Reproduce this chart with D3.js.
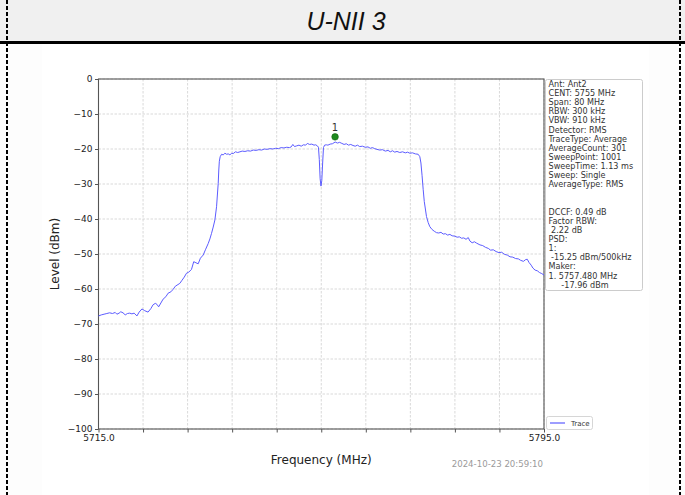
<!DOCTYPE html>
<html>
<head>
<meta charset="utf-8">
<script src="https://cdn.jsdelivr.net/npm/d3@7"></script>
<style>
  html, body { margin: 0; padding: 0; background: #ffffff; }
  svg { display: block; }
</style>
</head>
<body>
<svg id="chart" width="685" height="495"></svg>
<script>
// Spectrum trace: frequency (MHz) and measured level (dBm)
const freqMHz = [
  5715.0, 5715.5, 5716.0, 5716.5, 5717.0, 5717.5, 5718.0, 5718.3, 5718.7, 5719.0,
  5719.4, 5719.8, 5720.2, 5720.6, 5721.0, 5721.4, 5721.9, 5722.3, 5722.8, 5723.3,
  5723.9, 5724.4, 5724.8, 5725.2, 5725.5, 5725.8, 5726.2, 5726.6, 5727.1, 5727.5,
  5728.0, 5728.4, 5728.8, 5729.1, 5729.6, 5730.0, 5730.4, 5730.8, 5731.2, 5731.7,
  5732.1, 5732.5, 5732.9, 5733.3, 5733.8, 5734.2, 5734.7, 5735.0, 5735.3, 5735.6,
  5735.9, 5736.2, 5736.4, 5736.5, 5736.6, 5736.7, 5736.85, 5737.1, 5737.4, 5737.7,
  5738.0, 5738.3, 5738.6, 5738.9, 5739.2, 5739.6, 5740.0, 5740.4, 5740.8, 5741.3,
  5741.8, 5742.3, 5742.8, 5743.3, 5743.8, 5744.3, 5744.8, 5745.3, 5745.8, 5746.3,
  5746.8, 5747.3, 5747.8, 5748.3, 5748.8, 5749.3, 5749.6, 5749.9, 5750.2, 5750.6,
  5751.0, 5751.4, 5751.8, 5752.2, 5752.5, 5752.9, 5753.3, 5753.7, 5754.0, 5754.3,
  5754.5, 5754.65, 5754.8, 5754.95, 5755.1, 5755.25, 5755.4, 5755.6, 5755.9, 5756.2,
  5756.6, 5757.0, 5757.5, 5757.9, 5758.3, 5758.7, 5759.1, 5759.5, 5759.9, 5760.3,
  5760.7, 5761.1, 5761.5, 5761.9, 5762.4, 5762.9, 5763.4, 5763.8, 5764.2, 5764.6,
  5765.0, 5765.5, 5766.0, 5766.5, 5767.0, 5767.4, 5767.8, 5768.2, 5768.6, 5769.1,
  5769.6, 5770.1, 5770.5, 5770.9, 5771.4, 5771.9, 5772.4, 5772.7, 5772.9, 5773.1,
  5773.3, 5773.5, 5773.9, 5774.2, 5774.5, 5774.9, 5775.3, 5775.7, 5776.1, 5776.5,
  5776.9, 5777.3, 5777.7, 5778.1, 5778.5, 5779.0, 5779.4, 5779.8, 5780.2, 5780.6,
  5781.0, 5781.4, 5781.7, 5782.1, 5782.5, 5782.9, 5783.5, 5784.0, 5784.5, 5785.0,
  5785.4, 5785.9, 5786.4, 5786.9, 5787.4, 5787.9, 5788.4, 5788.9, 5789.4, 5789.9,
  5790.4, 5790.8, 5791.3, 5791.7, 5792.0, 5792.3, 5792.7, 5793.0, 5793.4, 5793.8,
  5794.2, 5794.6, 5795.0
];
const levelDbm = [
  -67.7, -67.4, -67.2, -67.0, -66.8, -67.0, -66.7, -67.2, -66.9, -66.5,
  -66.8, -67.4, -67.0, -66.9, -67.1, -66.9, -67.7, -66.6, -65.7, -66.2,
  -66.6, -65.6, -64.5, -64.1, -64.4, -65.1, -64.0, -62.9, -62.2, -61.2,
  -60.8, -60.1, -59.2, -58.9, -58.4, -57.5, -56.6, -55.5, -55.2, -54.4,
  -52.2, -52.5, -52.8, -51.2, -50.3, -48.8, -47.0, -45.7, -44.1, -42.3,
  -40.3, -36.5, -32.0, -29.8, -26.0, -23.5, -22.2, -21.5, -21.7, -21.2,
  -21.5, -21.4, -21.7, -21.2, -21.3, -20.8, -21.0, -20.8, -20.6, -20.7,
  -20.5, -20.6, -20.3, -20.4, -20.2, -20.3, -20.0, -20.1, -19.9, -20.0,
  -19.8, -19.9, -19.6, -19.7, -19.5, -19.6, -19.4, -18.7, -19.3, -19.1,
  -18.9, -19.2, -18.8, -18.9, -18.4, -18.7, -18.6, -18.9, -18.8, -19.1,
  -19.5, -23.0, -28.5, -30.6, -29.0, -24.0, -19.6, -18.9, -18.8, -18.9,
  -18.6, -18.5, -18.0, -18.3, -18.1, -18.4, -18.7, -18.5, -18.9, -18.7,
  -19.0, -19.2, -18.9, -19.3, -19.2, -19.5, -19.4, -19.8, -19.6, -19.9,
  -20.1, -20.3, -20.2, -20.6, -20.4, -20.8, -20.5, -20.9, -20.7, -21.0,
  -20.8, -21.1, -20.9, -21.2, -21.1, -21.4, -21.5, -22.2, -24.0, -27.5,
  -31.5, -35.0, -39.3, -41.0, -42.2, -43.0, -43.5, -43.9, -44.0, -43.8,
  -44.3, -44.2, -44.6, -44.4, -44.8, -44.9, -45.2, -45.1, -45.5, -45.4,
  -45.8, -45.3, -46.3, -46.8, -46.5, -46.9, -47.4, -47.6, -48.1, -48.4,
  -48.9, -48.8, -49.3, -49.6, -49.5, -50.1, -50.3, -50.8, -50.9, -51.3,
  -51.4, -51.8, -52.1, -51.6, -51.5, -52.4, -53.2, -54.0, -54.6, -54.8,
  -55.3, -55.6, -56.0
];

// Axis ranges and ticks
const freqDomain = [5715, 5795];
const freqTicks = [5715, 5723, 5731, 5739, 5747, 5755, 5763, 5771, 5779, 5787, 5795];
const freqTickLabels = ["5715.0", "", "", "", "", "", "", "", "", "", "5795.0"];
const levelDomain = [-100, 0];
const levelTicks = [0, -10, -20, -30, -40, -50, -60, -70, -80, -90, -100];

// Marker 1
const markerFreq = [5757.48];
const markerLevel = [-17.96];
const markerNames = ["1"];

// Text blocks
const chartTitle = "U-NII 3";
const infoLines = [
  "Ant: Ant2", "CENT: 5755 MHz", "Span: 80 MHz", "RBW: 300 kHz", "VBW: 910 kHz",
  "Detector: RMS", "TraceType: Average", "AverageCount: 301", "SweepPoint: 1001",
  "SweepTime: 1.13 ms", "Sweep: Single", "AverageType: RMS", "", "",
  "DCCF: 0.49 dB", "Factor RBW:", " 2.22 dB", "PSD:", "1:", " -15.25 dBm/500kHz",
  "Maker:", "1. 5757.480 MHz", "     -17.96 dBm"
];
const legendLabels = ["Trace"];
const timestamp = "2024-10-23 20:59:10";
const xLabel = "Frequency (MHz)";
const yLabel = "Level (dBm)";

const svg = d3.select("#chart");
const W = 685, H = 495;
const font = "'DejaVu Sans', sans-serif";

// Page frame: title band, rule, dashed side borders
svg.append("rect").attr("x", 0).attr("y", 0).attr("width", W).attr("height", H).attr("fill", "#fdfdfd");
svg.append("rect").attr("x", 0).attr("y", 0).attr("width", W).attr("height", 42).attr("fill", "#f0f0f0");
svg.append("rect").attr("x", 42).attr("y", 44).attr("width", 607).attr("height", H - 44).attr("fill", "#ffffff");
svg.append("line").attr("x1", 0).attr("x2", W).attr("y1", 42.5).attr("y2", 42.5)
  .attr("stroke", "#000").attr("stroke-width", 3);
[7, 680].forEach(x => {
  svg.append("line").attr("x1", x).attr("x2", x).attr("y1", 0).attr("y2", H)
    .attr("stroke", "#000").attr("stroke-width", 2).attr("stroke-dasharray", "4,2");
});
svg.append("text").attr("x", 346).attr("y", 30).attr("text-anchor", "middle")
  .attr("font-family", "'Liberation Sans', Arial, sans-serif").attr("font-style", "italic")
  .attr("font-size", 25).attr("fill", "#111").text(chartTitle);

// Plot area
const plot = { left: 98.5, right: 544, top: 79, bottom: 429 };
const x = d3.scaleLinear().domain(freqDomain).range([plot.left, plot.right]);
const y = d3.scaleLinear().domain(levelDomain).range([plot.bottom, plot.top]);

const g = svg.append("g");

// Grid
g.append("g").selectAll("line").data(freqTicks).join("line")
  .attr("x1", d => x(d)).attr("x2", d => x(d)).attr("y1", plot.top).attr("y2", plot.bottom)
  .attr("stroke", "#cfcfcf").attr("stroke-width", 0.8).attr("stroke-dasharray", "2.5,1.5");
g.append("g").selectAll("line").data(levelTicks).join("line")
  .attr("x1", plot.left).attr("x2", plot.right).attr("y1", d => y(d)).attr("y2", d => y(d))
  .attr("stroke", "#cfcfcf").attr("stroke-width", 0.8).attr("stroke-dasharray", "2.5,1.5");

// Axes
const xAxis = d3.axisBottom(x).tickValues(freqTicks).tickSize(3.5).tickPadding(2)
  .tickFormat((d, i) => freqTickLabels[i]);
const yAxis = d3.axisLeft(y).tickValues(levelTicks).tickSize(3.5).tickPadding(2.5)
  .tickFormat(d => d3.format("d")(d).replace("-", "\u2212"));

const gx = g.append("g").attr("transform", `translate(0,${plot.bottom})`).call(xAxis);
const gy = g.append("g").attr("transform", `translate(${plot.left},0)`).call(yAxis);
[gx, gy].forEach(a => {
  a.select(".domain").remove();
  a.selectAll(".tick line").attr("stroke", "#555").attr("stroke-width", 1);
  a.selectAll("text").attr("font-family", font).attr("font-size", 9).attr("fill", "#222");
});

// Frame around the plot
g.append("rect").attr("x", plot.left).attr("y", plot.top)
  .attr("width", plot.right - plot.left).attr("height", plot.bottom - plot.top)
  .attr("fill", "none").attr("stroke", "#555").attr("stroke-width", 1.1);

// Trace
const trace = freqMHz.map((f, i) => [f, levelDbm[i]]);
g.append("path").datum(trace)
  .attr("d", d3.line().x(d => x(d[0])).y(d => y(d[1])))
  .attr("fill", "none").attr("stroke", "#5c5cff").attr("stroke-width", 1);

// Marker
const markers = markerFreq.map((f, i) => ({ f, l: markerLevel[i], name: markerNames[i] }));
g.selectAll(".mk").data(markers).join("circle")
  .attr("cx", d => x(d.f)).attr("cy", d => y(d.l) - 5).attr("r", 3.3)
  .attr("fill", "#1f8a1f").attr("stroke", "#146414").attr("stroke-width", 0.6);
g.selectAll(".mkl").data(markers).join("text")
  .attr("x", d => x(d.f)).attr("y", d => y(d.l) - 10.5).attr("text-anchor", "middle")
  .attr("font-family", font).attr("font-size", 10).attr("fill", "#333").text(d => d.name);

// Axis labels
svg.append("text").attr("x", (plot.left + plot.right) / 2).attr("y", 464).attr("text-anchor", "middle")
  .attr("font-family", font).attr("font-size", 12).attr("fill", "#222").text(xLabel);
svg.append("text").attr("transform", `translate(59,${(plot.top + plot.bottom) / 2}) rotate(-90)`)
  .attr("text-anchor", "middle").attr("font-family", font).attr("font-size", 12)
  .attr("fill", "#222").text(yLabel);

// Info box
const info = svg.append("g");
info.append("rect").attr("x", 545.5).attr("y", 79.5).attr("width", 97).attr("height", 211)
  .attr("rx", 2).attr("fill", "#fff").attr("stroke", "#cccccc").attr("stroke-width", 1);
info.selectAll("text").data(infoLines).join("text")
  .attr("x", 548.5).attr("y", (d, i) => 87 + i * 9.12)
  .attr("font-family", font).attr("font-size", 8.1).attr("fill", "#333")
  .attr("xml:space", "preserve").style("white-space", "pre").text(d => d);

// Legend
const leg = svg.append("g");
leg.append("rect").attr("x", 546.5).attr("y", 416.5).attr("width", 46).attr("height", 13)
  .attr("rx", 2).attr("fill", "#fff").attr("stroke", "#cccccc").attr("stroke-width", 0.8);
leg.append("line").attr("x1", 550).attr("x2", 565).attr("y1", 423).attr("y2", 423)
  .attr("stroke", "#5c5cff").attr("stroke-width", 1.2);
leg.selectAll(".lt").data(legendLabels).join("text")
  .attr("x", 571).attr("y", 425.8).attr("font-family", font).attr("font-size", 7)
  .attr("fill", "#333").text(d => d);

// Timestamp
svg.append("text").attr("x", 543).attr("y", 466.5).attr("text-anchor", "end")
  .attr("font-family", font).attr("font-size", 8.6).attr("fill", "#9a9a9a").text(timestamp);
</script>
</body>
</html>
